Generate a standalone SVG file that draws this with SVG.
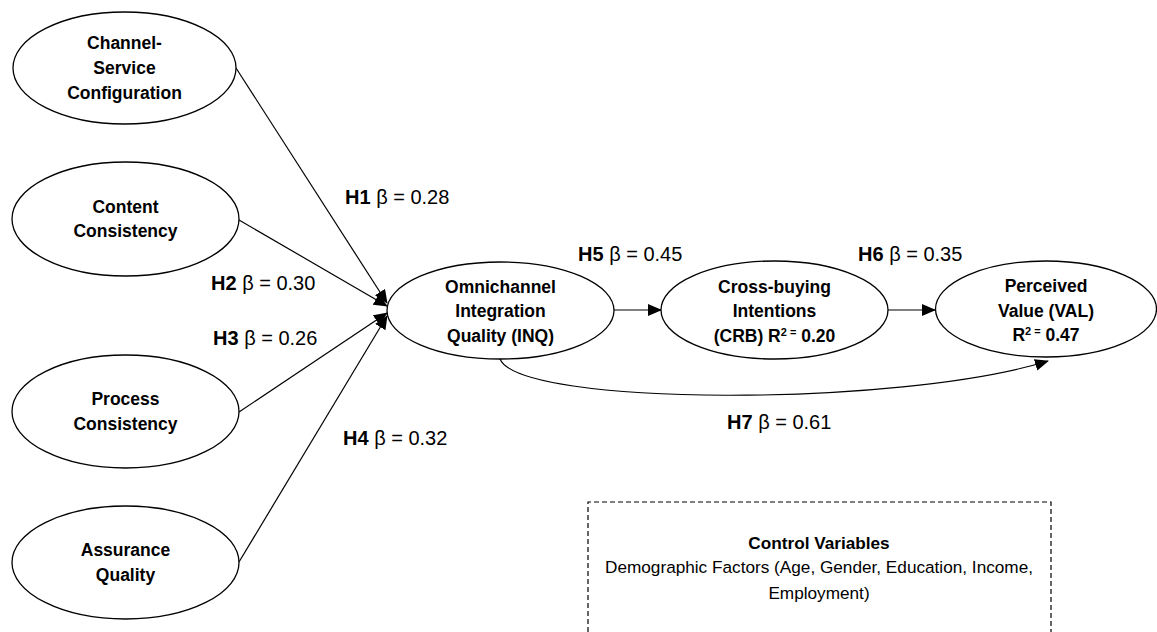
<svg xmlns="http://www.w3.org/2000/svg" width="1157" height="632" viewBox="0 0 1157 632">
<style>
.node ellipse{fill:#fff;stroke:#000;stroke-width:1.3}
.nt{font-family:"Liberation Sans",Arial,sans-serif;font-weight:bold;font-size:17.5px;text-anchor:middle;fill:#000}
.lb{font-family:"Liberation Sans",Arial,sans-serif;font-size:20px;fill:#000}
.lb tspan.b{font-weight:bold}
.edge{fill:none;stroke:#000;stroke-width:1.2}
.sup{font-size:11px}
.ct{font-family:"Liberation Sans",Arial,sans-serif;font-size:17.2px;text-anchor:middle;fill:#000}
</style>
<defs>
<marker id="ah" markerUnits="userSpaceOnUse" markerWidth="14" markerHeight="12" viewBox="0 0 14 12" refX="13" refY="6" orient="auto">
<path d="M0,0 L14,6 L0,12 Z" fill="#000"/>
</marker>
</defs>
<rect width="1157" height="632" fill="#fff"/>
<g id="connectors">
<line class="edge" x1="236" y1="68" x2="387" y2="303" marker-end="url(#ah)"/>
<line class="edge" x1="239" y1="220" x2="387" y2="306" marker-end="url(#ah)"/>
<line class="edge" x1="239" y1="412" x2="387" y2="313" marker-end="url(#ah)"/>
<line class="edge" x1="239" y1="562" x2="387" y2="316" marker-end="url(#ah)"/>
<line class="edge" x1="614" y1="310" x2="661" y2="310" marker-end="url(#ah)"/>
<line class="edge" x1="888" y1="310" x2="935" y2="310" marker-end="url(#ah)"/>
<path class="edge" d="M500,359 C520,407 900,407 1048,361" marker-end="url(#ah)"/>
</g>
<g id="node-csc" class="node">
<ellipse cx="124.5" cy="68" rx="111.5" ry="56"/>
<text class="nt" x="124.5" y="49">Channel-</text>
<text class="nt" x="124.5" y="74">Service</text>
<text class="nt" x="124.5" y="99">Configuration</text>
</g>
<g id="node-cc" class="node">
<ellipse cx="125.5" cy="219" rx="113.5" ry="57"/>
<text class="nt" x="125.5" y="213">Content</text>
<text class="nt" x="125.5" y="237">Consistency</text>
</g>
<g id="node-pc" class="node">
<ellipse cx="125.5" cy="411.5" rx="113.5" ry="56.5"/>
<text class="nt" x="125.5" y="405">Process</text>
<text class="nt" x="125.5" y="430">Consistency</text>
</g>
<g id="node-aq" class="node">
<ellipse cx="125.5" cy="562.5" rx="113.5" ry="56.5"/>
<text class="nt" x="125.5" y="556">Assurance</text>
<text class="nt" x="125.5" y="581">Quality</text>
</g>
<g id="node-inq" class="node">
<ellipse cx="500.5" cy="310.5" rx="113.5" ry="48.5"/>
<text class="nt" x="500.5" y="293">Omnichannel</text>
<text class="nt" x="500.5" y="317">Integration</text>
<text class="nt" x="500.5" y="342">Quality (INQ)</text>
</g>
<g id="node-crb" class="node">
<ellipse cx="774.5" cy="310" rx="113.5" ry="49"/>
<text class="nt" x="774.5" y="293">Cross-buying</text>
<text class="nt" x="774.5" y="317">Intentions</text>
<text class="nt" x="774.5" y="342">(CRB) R<tspan class="sup" dy="-6">2 =</tspan><tspan dy="6"> 0.20</tspan></text>
</g>
<g id="node-val" class="node">
<ellipse cx="1046" cy="309" rx="110.5" ry="48"/>
<text class="nt" x="1046" y="292">Perceived</text>
<text class="nt" x="1046" y="317">Value (VAL)</text>
<text class="nt" x="1046" y="341">R<tspan class="sup" dy="-6">2 =</tspan><tspan dy="6"> 0.47</tspan></text>
</g>
<g id="labels">
<text class="lb" x="345" y="204"><tspan class="b">H1</tspan> β = 0.28</text>
<text class="lb" x="211" y="290"><tspan class="b">H2</tspan> β = 0.30</text>
<text class="lb" x="213" y="345"><tspan class="b">H3</tspan> β = 0.26</text>
<text class="lb" x="343" y="445"><tspan class="b">H4</tspan> β = 0.32</text>
<text class="lb" x="578" y="261"><tspan class="b">H5</tspan> β = 0.45</text>
<text class="lb" x="858" y="261"><tspan class="b">H6</tspan> β = 0.35</text>
<text class="lb" x="727" y="429"><tspan class="b">H7</tspan> β = 0.61</text>
</g>
<g id="control-variables">
<path d="M588,640 L588,502 L1051,502 L1051,640" fill="none" stroke="#000" stroke-width="1.2" stroke-dasharray="5,3"/>
<text class="ct" x="819" y="549" font-weight="bold">Control Variables</text>
<text class="ct" x="819" y="573">Demographic Factors (Age, Gender, Education, Income,</text>
<text class="ct" x="819" y="599">Employment)</text>
</g>
</svg>
